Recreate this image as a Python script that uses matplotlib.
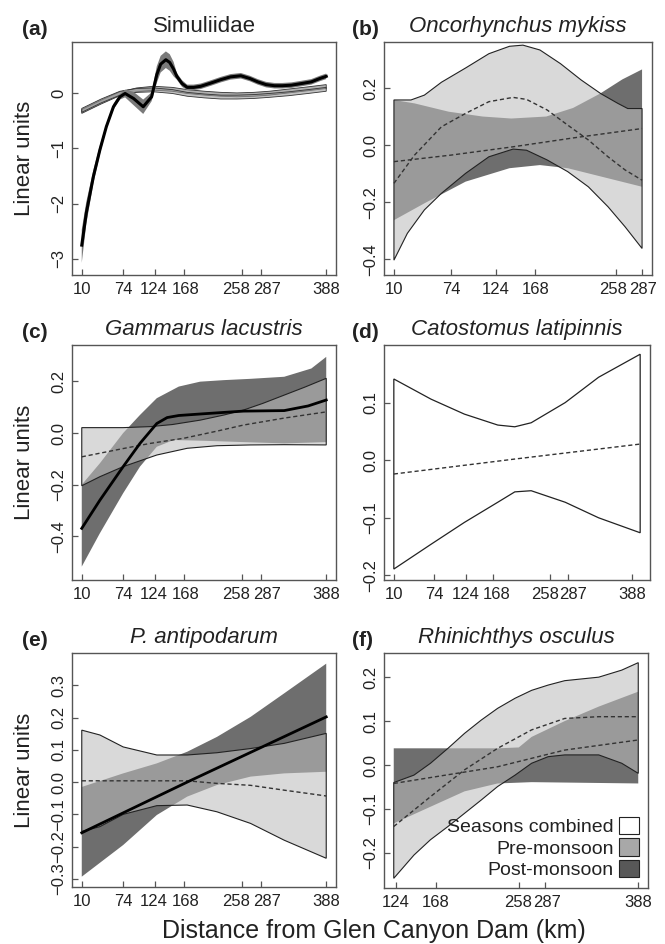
import matplotlib
matplotlib.use('Agg')
import matplotlib.pyplot as plt
import matplotlib.transforms as mtransforms
from matplotlib.patches import Patch

plt.rcParams['font.family'] = ['Liberation Sans', 'DejaVu Sans']
plt.rcParams['axes.unicode_minus'] = True

# ---------------- data ----------------
km_ticks = [10, 74, 124, 168, 258, 287, 388]

# (a) Simuliidae
A_post_x = [10, 17, 28, 38, 48, 59, 69, 77, 90, 105, 118, 126, 132, 140, 146, 152, 157, 165, 173, 183,
            194, 210, 225, 240, 256, 270, 282, 295, 308, 320, 334, 350, 365, 378, 388]
A_post_y = [-2.75, -2.17, -1.51, -1.03, -0.61, -0.25, -0.07, -0.01, -0.10, -0.25, -0.07, 0.33, 0.52, 0.60,
            0.55, 0.43, 0.30, 0.17, 0.10, 0.10, 0.12, 0.18, 0.24, 0.29, 0.31, 0.26, 0.20, 0.15, 0.13, 0.13,
            0.14, 0.17, 0.20, 0.26, 0.30]
A_post_lo = [-3.07, -2.37, -1.63, -1.11, -0.66, -0.30, -0.12, -0.08, -0.22, -0.38, -0.15, 0.18, 0.37, 0.45,
             0.40, 0.30, 0.24, 0.11, 0.05, 0.05, 0.07, 0.13, 0.19, 0.24, 0.26, 0.21, 0.15, 0.10, 0.08, 0.08,
             0.09, 0.12, 0.15, 0.21, 0.25]
A_post_hi = [-2.47, -1.97, -1.39, -0.95, -0.56, -0.20, -0.02, 0.06, 0.02, -0.12, 0.01, 0.48, 0.67, 0.75,
             0.70, 0.56, 0.36, 0.23, 0.15, 0.15, 0.17, 0.23, 0.29, 0.34, 0.36, 0.31, 0.25, 0.20, 0.18, 0.18,
             0.19, 0.22, 0.25, 0.31, 0.35]
A_comb_x = [10, 40, 69, 95, 121, 150, 173, 200, 225, 250, 276, 300, 330, 360, 388]
A_comb1_lo = [-0.37, -0.20, -0.05, 0.02, 0.05, 0.03, -0.01, -0.04, -0.06, -0.07, -0.06, -0.04, 0.00, 0.04, 0.08]
A_comb1_hi = [-0.30, -0.13, 0.02, 0.09, 0.12, 0.10, 0.06, 0.03, 0.01, 0.00, 0.01, 0.03, 0.07, 0.11, 0.15]
A_comb2_lo = [-0.35, -0.18, -0.04, 0.01, 0.02, -0.01, -0.06, -0.09, -0.11, -0.11, -0.10, -0.08, -0.05, -0.01, 0.03]
A_comb2_hi = [-0.28, -0.11, 0.03, 0.08, 0.09, 0.06, 0.01, -0.02, -0.04, -0.04, -0.03, -0.01, 0.02, 0.06, 0.10]

# (b) Oncorhynchus mykiss
B_comb_hi_x = [10, 29, 44, 63, 90, 116, 139, 154, 173, 196, 219, 241, 260, 271, 287]
B_comb_hi = [0.158, 0.158, 0.175, 0.22, 0.27, 0.32, 0.346, 0.35, 0.333, 0.285, 0.228, 0.18, 0.146, 0.128, 0.128]
B_comb_lo_x = [10, 25, 44, 63, 90, 116, 143, 158, 181, 204, 227, 249, 268, 287]
B_comb_lo = [-0.403, -0.309, -0.227, -0.169, -0.099, -0.041, -0.014, -0.018, -0.052, -0.093, -0.146, -0.216,
             -0.286, -0.362]
B_comb_mid_x = [10, 33, 63, 90, 116, 143, 158, 181, 204, 227, 249, 268, 287]
B_comb_mid = [-0.134, -0.035, 0.064, 0.111, 0.152, 0.167, 0.16, 0.123, 0.07, 0.018, -0.041, -0.087, -0.123]
B_post_hi_x = [10, 33, 71, 109, 141, 180, 210, 240, 265, 287]
B_post_hi = [0.158, 0.146, 0.117, 0.10, 0.093, 0.10, 0.13, 0.18, 0.23, 0.265]
B_post_lo_x = [10, 44, 90, 139, 173, 204, 241, 287]
B_post_lo = [-0.263, -0.204, -0.128, -0.081, -0.07, -0.081, -0.11, -0.146]
B_post_mid_x = [10, 74, 143, 210, 287]
B_post_mid = [-0.058, -0.035, -0.006, 0.025, 0.058]

# (c) Gammarus lacustris
C_comb_hi_x = [10, 74, 116, 150, 193, 230, 260, 290, 323, 355, 388]
C_comb_hi = [0.021, 0.021, 0.025, 0.033, 0.05, 0.07, 0.089, 0.115, 0.147, 0.178, 0.212]
C_comb_lo_x = [10, 38, 74, 126, 173, 219, 271, 323, 388]
C_comb_lo = [-0.204, -0.169, -0.13, -0.085, -0.059, -0.049, -0.046, -0.045, -0.046]
C_comb_mid_x = [10, 74, 116, 168, 220, 260, 323, 388]
C_comb_mid = [-0.092, -0.06, -0.04, -0.02, 0.008, 0.031, 0.058, 0.082]
C_post_x = [10, 38, 74, 100, 126, 142, 160, 200, 260, 323, 360, 388]
C_post_y = [-0.369, -0.26, -0.13, -0.04, 0.037, 0.06, 0.068, 0.075, 0.085, 0.087, 0.105, 0.128]
C_post_hi_x = [10, 38, 74, 100, 126, 160, 193, 230, 271, 323, 365, 388]
C_post_hi = [-0.2, -0.117, 0.0, 0.07, 0.135, 0.18, 0.199, 0.205, 0.21, 0.218, 0.25, 0.295]
C_post_lo_x = [10, 38, 74, 100, 126, 152, 200, 260, 323, 388]
C_post_lo = [-0.517, -0.388, -0.233, -0.13, -0.053, -0.027, -0.03, -0.035, -0.04, -0.035]

# (d) Catostomus latipinnis
D_x = [10, 69, 122, 175, 202, 228, 282, 335, 401]
D_hi = [0.141, 0.106, 0.08, 0.061, 0.058, 0.065, 0.1, 0.144, 0.184]
D_lo = [-0.189, -0.146, -0.108, -0.073, -0.055, -0.053, -0.073, -0.1, -0.126]
D_mid_x = [10, 202, 401]
D_mid = [-0.024, 0.002, 0.028]

# (e) P. antipodarum
E_comb_x = [10, 38, 74, 126, 173, 219, 271, 323, 388]
E_comb_hi = [0.161, 0.146, 0.109, 0.084, 0.084, 0.091, 0.104, 0.12, 0.151]
E_comb_lo = [-0.153, -0.138, -0.1, -0.073, -0.071, -0.092, -0.128, -0.18, -0.236]
E_comb_mid_x = [10, 173, 219, 271, 323, 388]
E_comb_mid = [0.004, 0.004, -0.004, -0.01, -0.025, -0.043]
E_post_x = [10, 173, 388]
E_post_y = [-0.157, 0.0, 0.202]
E_post_band_x = [10, 74, 126, 173, 219, 271, 323, 388]
E_post_hi = [-0.015, 0.027, 0.058, 0.094, 0.14, 0.202, 0.275, 0.367]
E_post_lo = [-0.293, -0.195, -0.102, -0.045, -0.009, 0.017, 0.027, 0.032]

# (f) Rhinichthys osculus
F_comb_x = [122, 144, 162, 181, 199, 217, 235, 254, 272, 290, 308, 345, 370, 388]
F_comb_hi = [-0.04, -0.023, 0.004, 0.038, 0.072, 0.102, 0.129, 0.152, 0.17, 0.182, 0.192, 0.2, 0.216, 0.233]
F_comb_lo = [-0.258, -0.205, -0.17, -0.14, -0.11, -0.08, -0.049, -0.023, 0.004, 0.019, 0.023, 0.023, 0.004,
             -0.019]
F_comb_mid_x = [122, 162, 199, 235, 272, 308, 345, 388]
F_comb_mid = [-0.14, -0.072, -0.011, 0.038, 0.08, 0.106, 0.11, 0.11]
F_post_hi_x = [122, 162, 199, 235, 258, 272, 308, 345, 388]
F_post_hi = [0.038, 0.038, 0.038, 0.038, 0.04, 0.064, 0.1, 0.133, 0.167]
F_post_lo_x = [122, 162, 199, 235, 272, 388]
F_post_lo = [-0.133, -0.095, -0.06, -0.042, -0.039, -0.042]
F_post_mid_x = [122, 235, 308, 388]
F_post_mid = [-0.042, -0.004, 0.034, 0.057]

legend_labels = ['Seasons combined', 'Pre-monsoon', 'Post-monsoon']
legend_colors = ['white', '#a8a8a8', '#585858']

# ---------------- styles ----------------
W, H = 665, 944
DARK = '#6e6e6e'
LIGHT = (0.74, 0.74, 0.74, 0.57)
DASH = (0, (3, 2))
TXT = '#222222'

fig = plt.figure(figsize=(W / 100, H / 100), dpi=100)


def axes_at(l, t, r, b):
    return fig.add_axes([l / W, 1 - b / H, (r - l) / W, (b - t) / H])


def band(ax, xt, yt, xb, yb, **kw):
    xs = list(xt) + list(xb)[::-1]
    ys = list(yt) + list(yb)[::-1]
    ax.fill(xs, ys, **kw)


def style(ax, xlim, xticks, ylim, yticks, ylabels, title, letter, italic, lx, xshift):
    ax.set_xlim(*xlim)
    ax.set_ylim(*ylim)
    ax.set_xticks(xticks)
    ax.set_xticklabels([str(t) for t in xticks])
    ax.set_yticks(yticks)
    ax.set_yticklabels(ylabels)
    for lbl in ax.get_yticklabels():
        lbl.set_rotation(90)
        lbl.set_va('center')
        lbl.set_ha('right')
    ax.tick_params(direction='in', length=4, width=0.9, color='#555555', labelsize=12,
                   labelcolor=TXT, pad=4)
    ax.tick_params(axis='x', pad=5)
    for s in ax.spines.values():
        s.set_color('#555555')
        s.set_linewidth(1.0)
    # nudge crowded tick labels apart (pixels)
    for tick, dx in zip(ax.xaxis.get_major_ticks(), xshift):
        if dx:
            tick.label1.set_transform(tick.label1.get_transform() +
                                      mtransforms.ScaledTranslation(dx / 100, 0, fig.dpi_scale_trans))
    ax.set_title(title, fontsize=16, color=TXT, pad=7, style='italic' if italic else 'normal')
    bb = ax.get_position()
    fig.text(lx / W, bb.y1 + 7 / H, letter, fontsize=15, fontweight='bold', color=TXT,
             ha='left', va='baseline')


L_COL = (72, 336)
R_COL = (384, 650)
ROWS = [(42, 275), (345, 580), (653, 887)]
SHIFT7 = [0, 0, -2, 2, -6, 6, 0]

# (a)
ax = axes_at(L_COL[0], ROWS[0][0], L_COL[1], ROWS[0][1])
band(ax, A_comb_x, A_comb1_hi, A_comb_x, A_comb1_lo, facecolor='#b0b0b0', edgecolor='#333333', lw=0.6, zorder=2)
band(ax, A_comb_x, A_comb2_hi, A_comb_x, A_comb2_lo, facecolor=(0.6, 0.6, 0.6, 0.6), edgecolor='#333333', lw=0.6, zorder=2)
band(ax, A_post_x, A_post_hi, A_post_x, A_post_lo, facecolor='#7a7a7a', edgecolor='none', zorder=3)
ax.plot(A_post_x, A_post_y, color='black', lw=2.2, zorder=4)
style(ax, (10 - 15.1, 388 + 15.1), km_ticks, (-3.29, 0.92), [-3, -2, -1, 0],
      ['\u22123', '\u22122', '\u22121', '0'], 'Simuliidae', '(a)', False, 22, SHIFT7)

# (b)
ax = axes_at(R_COL[0], ROWS[0][0], R_COL[1] + 2, ROWS[0][1])
band(ax, B_post_hi_x, B_post_hi, B_post_lo_x, B_post_lo, facecolor=DARK, edgecolor='none', zorder=1)
band(ax, B_comb_hi_x, B_comb_hi, B_comb_lo_x, B_comb_lo, facecolor=LIGHT, edgecolor='#222222', lw=0.8, zorder=2)
ax.plot(B_comb_mid_x, B_comb_mid, color='#333333', lw=1.0, ls=DASH, zorder=4)
ax.plot(B_post_mid_x, B_post_mid, color='#333333', lw=1.0, ls=DASH, zorder=4)
style(ax, (10 - 11.1, 287 + 11.1), [10, 74, 124, 168, 258, 287], (-0.455, 0.361), [-0.4, -0.2, 0.0, 0.2],
      ['\u22120.4', '\u22120.2', '0.0', '0.2'], 'Oncorhynchus mykiss', '(b)', True, 352,
      [0, 0, 0, 0, -3, 1])

# (c)
ax = axes_at(L_COL[0], ROWS[1][0], L_COL[1], ROWS[1][1])
band(ax, C_post_hi_x, C_post_hi, C_post_lo_x, C_post_lo, facecolor=DARK, edgecolor='none', zorder=1)
band(ax, C_comb_hi_x, C_comb_hi, C_comb_lo_x, C_comb_lo, facecolor=LIGHT, edgecolor='#222222', lw=0.8, zorder=2)
ax.plot(C_comb_mid_x, C_comb_mid, color='#333333', lw=1.0, ls=DASH, zorder=4)
ax.plot(C_post_x, C_post_y, color='black', lw=2.0, zorder=4)
style(ax, (10 - 15.1, 388 + 15.1), km_ticks, (-0.569, 0.341), [-0.4, -0.2, 0.0, 0.2],
      ['\u22120.4', '\u22120.2', '0.0', '0.2'], 'Gammarus lacustris', '(c)', True, 22, SHIFT7)

# (d)
ax = axes_at(R_COL[0], ROWS[1][0], R_COL[1], ROWS[1][1])
band(ax, D_x, D_hi, D_x, D_lo, facecolor='white', edgecolor='#222222', lw=0.9, zorder=2)
ax.plot(D_mid_x, D_mid, color='#333333', lw=1.0, ls=DASH, zorder=4)
style(ax, (10 - 15.6, 401 + 15.6), km_ticks, (-0.208, 0.2), [-0.2, -0.1, 0.0, 0.1],
      ['\u22120.2', '\u22120.1', '0.0', '0.1'], 'Catostomus latipinnis', '(d)', True, 352,
      [0, 0, 0, 3, -5, 5, 0])

# (e)
ax = axes_at(L_COL[0], ROWS[2][0], L_COL[1], ROWS[2][1])
band(ax, E_post_band_x, E_post_hi, E_post_band_x, E_post_lo, facecolor=DARK, edgecolor='none', zorder=1)
band(ax, E_comb_x, E_comb_hi, E_comb_x, E_comb_lo, facecolor=LIGHT, edgecolor='#222222', lw=0.8, zorder=2)
ax.plot(E_comb_mid_x, E_comb_mid, color='#333333', lw=1.0, ls=DASH, zorder=4)
ax.plot(E_post_x, E_post_y, color='black', lw=2.0, zorder=4)
style(ax, (10 - 15.1, 388 + 15.1), km_ticks, (-0.325, 0.40), [-0.3, -0.2, -0.1, 0.0, 0.1, 0.2, 0.3],
      ['\u22120.3', '\u22120.2', '\u22120.1', '0.0', '0.1', '0.2', '0.3'], 'P. antipodarum', '(e)', True, 22,
      SHIFT7)

# (f)
ax = axes_at(R_COL[0], ROWS[2][0], R_COL[1] - 2, ROWS[2][1] + 1)
band(ax, F_post_hi_x, F_post_hi, F_post_lo_x, F_post_lo, facecolor=DARK, edgecolor='none', zorder=1)
band(ax, F_comb_x, F_comb_hi, F_comb_x, F_comb_lo, facecolor=LIGHT, edgecolor='#222222', lw=0.8, zorder=2)
ax.plot(F_comb_mid_x, F_comb_mid, color='#333333', lw=1.0, ls=DASH, zorder=4)
ax.plot(F_post_mid_x, F_post_mid, color='#333333', lw=1.0, ls=DASH, zorder=4)
style(ax, (122 - 10.6, 388 + 10.6), [124, 168, 258, 287, 388], (-0.28, 0.255), [-0.2, -0.1, 0.0, 0.1, 0.2],
      ['\u22120.2', '\u22120.1', '0.0', '0.1', '0.2'], 'Rhinichthys osculus', '(f)', True, 352,
      [0, 0, -1, 2, 0])
handles = [Patch(facecolor=c, edgecolor='#222222', lw=0.8) for c in legend_colors]
ax.legend(handles, legend_labels, loc='lower right', frameon=False, markerfirst=False, fontsize=14,
          handlelength=1.05, handleheight=1.0, handletextpad=0.25, labelspacing=0.12,
          borderaxespad=0.25, borderpad=0.2, labelcolor=TXT)

# shared labels
for t in [ROWS[0], ROWS[1], ROWS[2]]:
    fig.text(25 / W, 1 - ((t[0] + t[1]) / 2) / H, 'Linear units', rotation=90, fontsize=16,
             ha='center', va='center', color=TXT)
fig.text(374 / W, 1 - 931 / H, 'Distance from Glen Canyon Dam (km)', fontsize=18, ha='center',
         va='center', color=TXT)

fig.savefig('out.png', dpi=100)
